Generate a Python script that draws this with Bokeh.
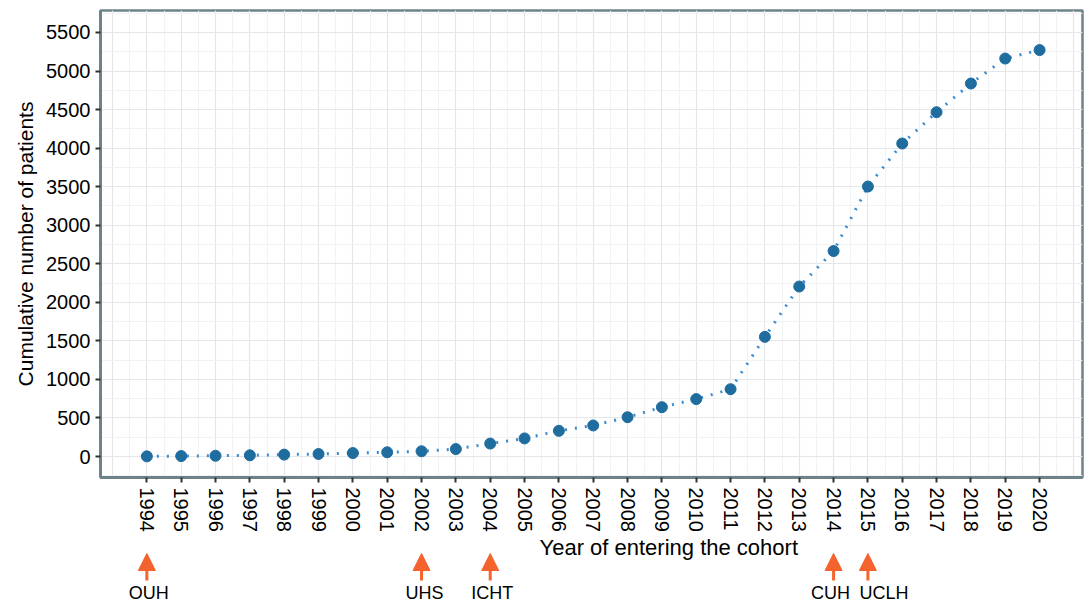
from bokeh.plotting import figure
from bokeh.models import (Range1d, SingleIntervalTicker, FixedTicker, Arrow,
                          NormalHead, Label, LabelSet, ColumnDataSource)
from bokeh.core.properties import value
from bokeh.layouts import column
from bokeh.embed import file_html
from bokeh.resources import INLINE

years = list(range(1994, 2021))
cumulative = [2, 6, 10, 16, 25, 33, 45, 55, 68, 97, 168, 235, 333, 403,
              510, 640, 745, 873, 1552, 2205, 2665, 3502, 4060, 4466,
              4838, 5162, 5272]
site_years = [1994, 2002, 2004, 2014, 2015]
site_names = ["OUH", "UHS", "ICHT", "CUH", "UCLH"]
y_ticks = list(range(0, 6000, 500))

FONT = "Liberation Sans"
FRAME_COL = "#6f8289"
ORANGE = "#f4622d"

x_range = Range1d(1992.65, 2021.25)

p = figure(frame_width=982, frame_height=467, x_range=x_range,
           y_range=Range1d(-272, 5785), output_backend="svg",
           toolbar_location=None, min_border_left=100, min_border_right=2,
           min_border_top=10, min_border_bottom=52)
p.background_fill_color = "white"
p.border_fill_color = "white"
p.outline_line_color = FRAME_COL
p.outline_line_width = 2.5

p.line(years, cumulative, line_color="#3a8bd0", line_width=3,
       line_dash="2 8")
p.scatter(years, cumulative, size=11, fill_color="#1f6c9f",
          line_color="#1f6c9f")

p.xaxis.ticker = FixedTicker(ticks=years)
p.yaxis.ticker = FixedTicker(ticks=y_ticks)
p.xgrid.ticker = SingleIntervalTicker(interval=1, num_minor_ticks=2)
p.ygrid.ticker = SingleIntervalTicker(interval=500, num_minor_ticks=2)
for g in (p.xgrid, p.ygrid):
    g.grid_line_color = "#e3e7e9"
    g.grid_line_width = 1.2
    g.minor_grid_line_color = "#f0f2f3"
    g.minor_grid_line_width = 1

for ax in (p.xaxis, p.yaxis):
    ax.axis_line_color = FRAME_COL
    ax.axis_line_width = 3
    ax.major_tick_line_color = "#333333"
    ax.major_tick_line_width = 2
    ax.major_tick_in = 0
    ax.major_tick_out = 5
    ax.minor_tick_line_color = None
    ax.major_label_text_font = FONT
    ax.major_label_text_font_size = "20px"
    ax.major_label_text_color = "black"
    ax.major_label_standoff = 5
    ax.axis_label_text_font = FONT
    ax.axis_label_text_font_size = "21px"
    ax.axis_label_text_font_style = "normal"
    ax.axis_label_text_color = "black"

p.xaxis.major_label_orientation = "vertical"
p.yaxis.axis_label = "Cumulative number of patients"
p.yaxis.axis_label_standoff = 6

# annotation strip below the chart, sharing the x scale
s = figure(frame_width=982, frame_height=68, x_range=x_range,
           y_range=Range1d(68, 0), output_backend="svg",
           toolbar_location=None, min_border_left=100, min_border_right=2,
           min_border_top=0, min_border_bottom=0,
           x_axis_type=None, y_axis_type=None)
s.outline_line_color = None
s.xgrid.visible = False
s.ygrid.visible = False
s.background_fill_color = "white"
s.border_fill_color = "white"

s.add_layout(Label(x=2009.2, y=13, text="Year of entering the cohort",
                   text_align="center", text_baseline="middle",
                   text_font=FONT, text_font_size="22px",
                   text_color="black"))

src = ColumnDataSource(dict(x=site_years, name=site_names,
                            nudge=[2, 3, 2, -3, 16]))
s.add_layout(Arrow(x_start="x", x_end="x", y_start=46, y_end=19,
                   source=src, line_color=ORANGE, line_width=3,
                   end=NormalHead(size=17, fill_color=ORANGE,
                                  line_color=ORANGE, line_width=1)))
s.add_layout(LabelSet(x="x", y=58, text="name", source=src,
                      x_offset="nudge",
                      text_align="center", text_baseline="middle",
                      text_font=value(FONT), text_font_size=value("18px"),
                      text_color="black"))

layout = column(p, s, spacing=0)
open("out.html", "w").write(file_html(layout, INLINE))
